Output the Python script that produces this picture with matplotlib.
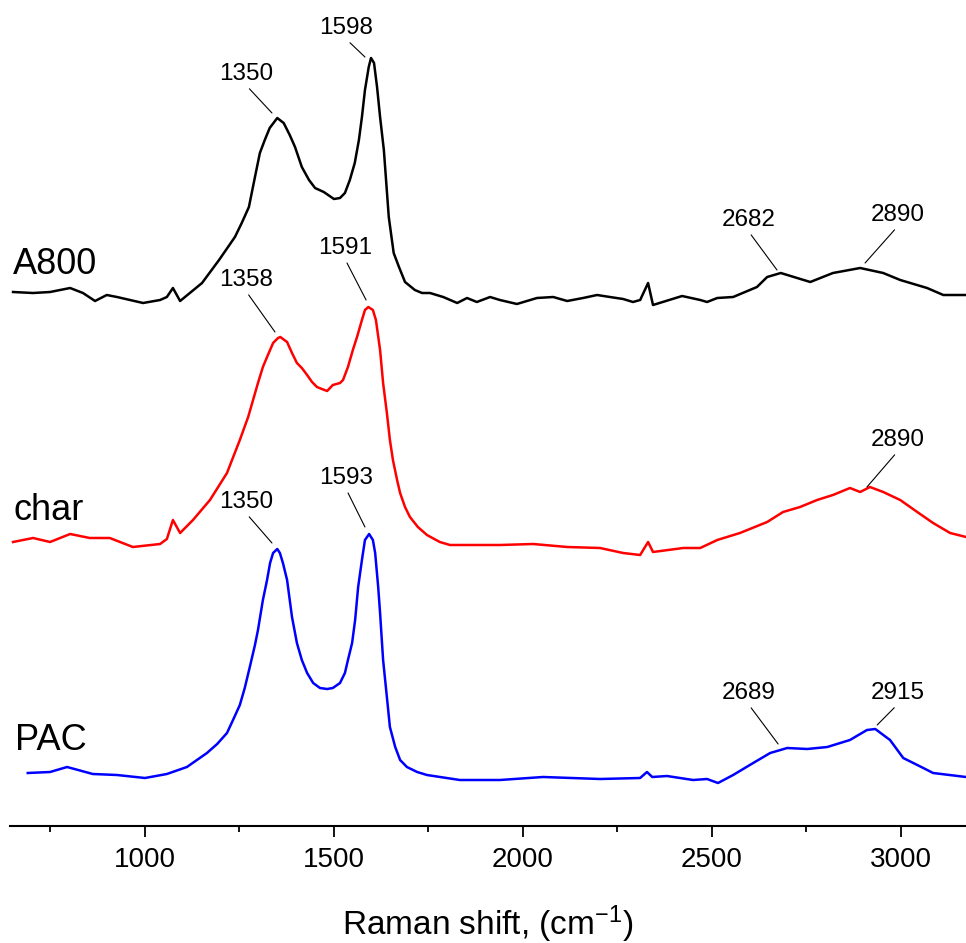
import numpy as np
import matplotlib
matplotlib.use("Agg")
import matplotlib.pyplot as plt
from matplotlib.ticker import MultipleLocator

plt.rcParams['font.family'] = ['Liberation Sans', 'DejaVu Sans']
plt.rcParams['mathtext.fontset'] = 'custom'
plt.rcParams['mathtext.rm'] = 'Liberation Sans'
plt.rcParams['mathtext.default'] = 'regular'

# ======================= DATA =========================
# Raman shift (cm-1) and intensity (a.u., baseline ~0)
a800_x = [651, 704, 749, 802, 836, 868, 899, 926, 995, 1040, 1058, 1074, 1093,
          1151, 1196, 1238, 1256, 1275, 1291, 1304, 1317, 1330, 1350, 1367, 1383,
          1397, 1415, 1434, 1450, 1473, 1500, 1516, 1529, 1542, 1555, 1566, 1574,
          1582, 1592, 1598, 1606, 1614, 1622, 1632, 1645, 1658, 1672, 1688, 1714,
          1733, 1754, 1789, 1826, 1852, 1878, 1913, 1939, 1984, 2037, 2080, 2117,
          2159, 2196, 2230, 2265, 2291, 2310, 2331, 2344, 2421, 2469, 2487, 2514,
          2556, 2619, 2646, 2682, 2760, 2820, 2892, 2953, 2998, 3069, 3112, 3172]
a800_y = [6, 5, 6, 10, 5, -3, 3, 1, -5, -2, 1, 10, -3,
          15, 38, 61, 75, 91, 121, 145, 158, 170, 180, 175, 163,
          151, 131, 118, 110, 106, 99, 100, 105, 118, 135, 158, 181,
          208, 231, 240, 235, 211, 181, 148, 81, 45, 31, 16, 8,
          5, 5, 1, -5, 0, -4, 1, -2, -6, 0, 1, -3,
          0, 3, 1, -1, -4, -2, 15, -7, 2, -2, -4, 0,
          1, 11, 21, 25, 16, 25, 30, 25, 18, 10, 3, 3]

char_x = [651, 704, 749, 802, 854, 907, 968, 1040, 1058, 1074, 1093, 1127, 1172,
          1217, 1251, 1273, 1299, 1312, 1323, 1339, 1352, 1358, 1376, 1389, 1402,
          1415, 1429, 1442, 1455, 1468, 1482, 1497, 1516, 1524, 1537, 1550, 1561,
          1574, 1582, 1591, 1603, 1611, 1622, 1630, 1640, 1648, 1656, 1667, 1675,
          1688, 1701, 1722, 1746, 1780, 1807, 1939, 2027, 2117, 2204, 2265, 2310,
          2331, 2344, 2424, 2469, 2514, 2574, 2646, 2688, 2733, 2778, 2820, 2865,
          2892, 2918, 2953, 2998, 3043, 3085, 3130, 3172]
char_y = [3, 7, 3, 11, 7, 7, -2, 1, 6, 25, 12, 25, 45,
          72, 105, 128, 162, 178, 188, 202, 207, 208, 203, 192, 182,
          177, 170, 163, 158, 156, 154, 160, 162, 165, 178, 195, 208,
          225, 235, 238, 235, 225, 195, 162, 132, 105, 85, 65, 52,
          38, 28, 18, 10, 3, 0, 0, 1, -2, -3, -8, -10,
          3, -7, -3, -3, 5, 12, 23, 33, 38, 45, 50, 57,
          53, 58, 53, 45, 33, 22, 12, 8]

pac_x = [690, 749, 794, 862, 926, 1000, 1058, 1111, 1164, 1191, 1217, 1233,
         1251, 1264, 1278, 1291, 1299, 1312, 1323, 1331, 1339, 1350, 1357, 1365,
         1376, 1389, 1402, 1415, 1429, 1445, 1463, 1482, 1497, 1516, 1529, 1537,
         1548, 1556, 1564, 1574, 1582, 1593, 1603, 1609, 1617, 1622, 1630, 1640,
         1648, 1662, 1675, 1693, 1720, 1746, 1833, 1939, 2053, 2204, 2310, 2328,
         2342, 2381, 2450, 2487, 2516, 2556, 2609, 2654, 2699, 2752, 2805, 2865,
         2910, 2932, 2971, 3006, 3059, 3085, 3172]
pac_y = [5, 6, 11, 4, 3, 0, 4, 11, 25, 34, 45, 58,
         73, 90, 112, 133, 148, 178, 198, 215, 225, 229, 225, 215,
         198, 161, 135, 118, 105, 95, 90, 89, 90, 95, 105, 118,
         135, 158, 191, 218, 238, 244, 238, 225, 191, 165, 118, 81,
         51, 31, 18, 11, 6, 3, -2, -2, 1, -1, 0, 6,
         1, 2, -2, -1, -5, 3, 15, 25, 30, 29, 31, 38,
         48, 49, 38, 20, 10, 5, 1]

samples = ['A800', 'char', 'PAC']
offsets = [528, 281, 48]
colors = ['black', 'red', 'blue']

# peak labels: (text, peak x, peak y on stacked scale, text x, text y)
peak_labels = [
    ('1350', 1336, 713, 1267, 752),
    ('1598', 1582, 769, 1532, 798),
    ('2682', 2672, 556, 2596, 606),
    ('2890', 2905, 563, 2992, 611),
    ('1358', 1344, 494, 1267, 546),
    ('1591', 1585, 526, 1529, 578),
    ('2890', 2910, 339, 2992, 386),
    ('1350', 1336, 283, 1267, 324),
    ('1593', 1582, 299, 1532, 348),
    ('2689', 2675, 82, 2596, 133),
    ('2915', 2937, 101, 2992, 133),
]
name_pos = [(651, 561), (651, 316), (655, 86)]

# ======================= PLOT =========================
fig = plt.figure(figsize=(9.66, 9.43), dpi=100)
ax = fig.add_axes([10 / 966, 117 / 943, 956 / 966, 826 / 943])

spectra = [(a800_x, a800_y), (char_x, char_y), (pac_x, pac_y)]
for (xs, ys), off, col in zip(spectra, offsets, colors):
    ax.plot(xs, np.array(ys) + off, color=col, lw=1.8)

for txt, px, py, tx, ty in peak_labels:
    ax.annotate(txt, xy=(px, py), xytext=(tx, ty), fontsize=17.5,
                ha='center', va='center',
                arrowprops=dict(arrowstyle='-', lw=0.8, color='black',
                                shrinkA=1, shrinkB=0, relpos=(0.5, 0)))

for name, (nx, ny) in zip(samples, name_pos):
    ax.text(nx, ny, name, fontsize=26, ha='left', va='center')

ax.set_xlim(643, 3172)
ax.set_ylim(0, 826)
for s in ['left', 'right', 'top']:
    ax.spines[s].set_visible(False)
ax.spines['bottom'].set_linewidth(1.5)
ax.set_yticks([])
ax.xaxis.set_major_locator(MultipleLocator(500))
ax.xaxis.set_minor_locator(MultipleLocator(250))
ax.tick_params(axis='x', which='major', length=8, width=1.3, labelsize=20, pad=7)
ax.tick_params(axis='x', which='minor', length=4, width=1.3)
ax.set_xlabel(r'Raman shift, (cm$^{-1}$)', fontsize=24, labelpad=22)

fig.savefig('out.png', dpi=100)
